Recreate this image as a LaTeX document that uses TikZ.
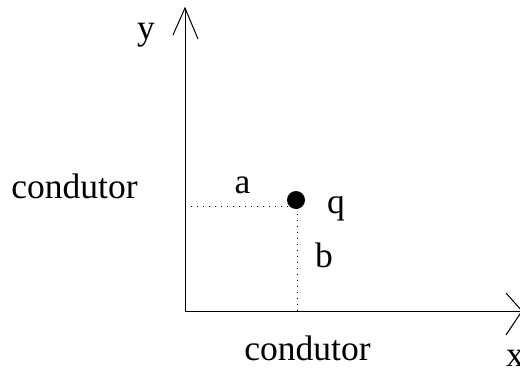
\documentclass[tikz,border=0pt]{standalone}
\usepackage{fontspec}
\setmainfont{Liberation Serif}
\begin{document}
\begin{tikzpicture}[x=1pt,y=-1pt,
  lbl/.style={anchor=base,inner sep=0pt,font=\fontsize{35.5}{42}\selectfont},
  axis/.style={line width=1pt},
  guide/.style={line width=1pt,dash pattern=on 1.2pt off 4.8pt},
  charge/.style={circle,fill=black,inner sep=0pt,minimum size=18pt}]
\useasboundingbox (0,0) rectangle (520,369);
% coordinates
\coordinate (O) at (185,311);
\coordinate (ytip) at (185,8);
\coordinate (yl) at (173,35);
\coordinate (yr) at (198,39);
\coordinate (xtip) at (522,311);
\coordinate (xu) at (506,293);
\coordinate (xd) at (506,335);
\coordinate (ga) at (185,206);
\coordinate (gc) at (297,206);
\coordinate (gb) at (297,311);
% axes
\draw[axis] (O) -- (ytip);
\draw[axis] (yl) -- (ytip) -- (yr);
\draw[axis] (O) -- (xtip);
\draw[axis] (xu) -- (xtip) -- (xd);
% guides
\draw[guide] (ga) -- (gc) -- (gb);
% charge
\node[charge] (q) at (296,200) {};
% labels
\node[lbl] (ylab) at (146,40) {y};
\node[lbl] (xlab) at (515,366) {x};
\node[lbl] (alab) at (242.5,193) {a};
\node[lbl] (blab) at (324,267) {b};
\node[lbl] (qlab) at (336,213) {q};
\node[lbl] (cleft) at (74.5,198) {condutor};
\node[lbl] (cbot) at (307.5,360) {condutor};
\end{tikzpicture}
\end{document}
